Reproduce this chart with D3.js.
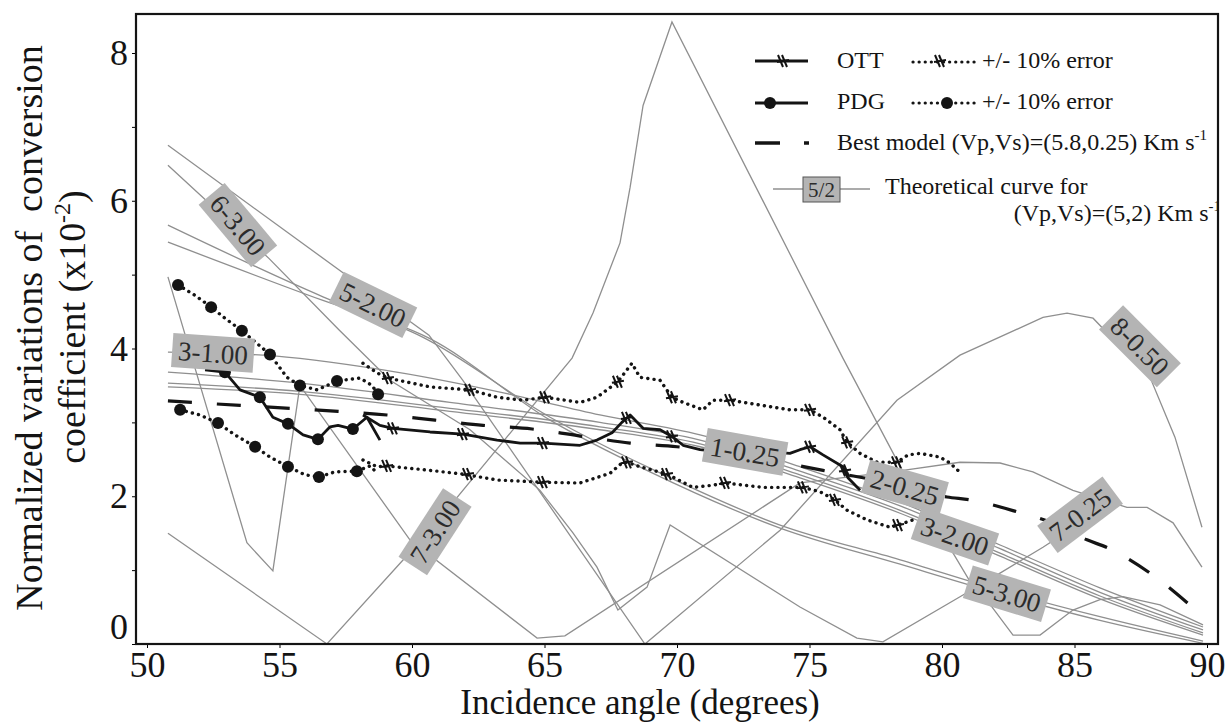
<!DOCTYPE html>
<html>
<head>
<meta charset="utf-8">
<script src="https://cdn.jsdelivr.net/npm/d3@7"></script>
<style>
  body { margin: 0; background: #fff; }
  svg { display: block; }
  svg text { font-family: "Liberation Serif", "DejaVu Serif", "Times New Roman", serif; }
</style>
</head>
<body>
<div id="chart"></div>
<script>
// incidence angle (deg), normalized variation (x1e-2)
const xTicks = [50, 55, 60, 65, 70, 75, 80, 85, 90];
const yTicks = [0, 1, 2, 3, 4, 5, 6, 7, 8];

const ott = [[58.15,3.10],[58.79,2.96],[59.28,2.92],[60.68,2.87],[61.92,2.84],[63.21,2.76],[64.08,2.72],[64.94,2.72],[66.34,2.69],[66.98,2.76],[67.55,2.86],[67.92,3.00],[68.23,3.10],[68.72,2.92],[69.36,2.90],[69.81,2.81],[70.23,2.69],[70.87,2.63],[71.62,2.60],[72.57,2.60],[73.51,2.60],[74.26,2.58],[74.64,2.63],[75.02,2.67],[75.51,2.56],[76.26,2.40],[76.45,2.25],[76.91,2.08]];
const ottMarks = [[59.28,2.92],[61.92,2.84],[64.94,2.72],[68.11,3.06],[69.81,2.81],[75.02,2.67],[76.34,2.35]];

const ottUpper = [[58.15,3.80],[58.68,3.67],[59.09,3.60],[60.68,3.48],[62.19,3.44],[63.21,3.34],[64.19,3.30],[65.02,3.34],[66.34,3.27],[66.98,3.34],[67.77,3.55],[68.30,3.80],[68.60,3.61],[69.36,3.57],[69.81,3.34],[70.23,3.27],[70.98,3.17],[71.36,3.30],[72.0,3.30],[74.26,3.17],[75.02,3.17],[75.51,3.07],[76.15,2.90],[76.42,2.73],[76.91,2.58],[77.55,2.46],[78.30,2.46],[78.72,2.56],[79.17,2.58],[79.92,2.53],[80.30,2.45],[80.60,2.35]];
const ottUpperMarks = [[59.09,3.60],[62.19,3.44],[65.02,3.34],[67.77,3.55],[69.81,3.34],[72.0,3.30],[75.02,3.17],[76.42,2.73],[78.30,2.46]];

const ottLower = [[58.15,2.49],[58.68,2.40],[59.06,2.41],[60.68,2.35],[61.92,2.30],[63.21,2.22],[64.94,2.19],[66.34,2.18],[67.47,2.31],[67.92,2.45],[68.11,2.46],[68.60,2.40],[69.62,2.30],[70.60,2.12],[71.36,2.15],[71.81,2.18],[73.25,2.12],[74.75,2.12],[75.40,2.06],[75.96,1.95],[76.42,1.81],[77.17,1.68],[78.04,1.58],[78.34,1.61],[78.91,1.68]];
const ottLowerMarks = [[59.06,2.41],[62.11,2.30],[64.94,2.19],[68.11,2.46],[69.62,2.30],[71.81,2.18],[74.75,2.12],[75.96,1.95],[78.34,1.61]];

const pdg = [[52.19,3.71],[52.94,3.68],[53.51,3.44],[54.26,3.34],[54.75,3.07],[55.32,2.98],[55.89,2.83],[56.45,2.77],[56.91,2.94],[57.21,2.96],[57.77,2.91],[58.30,3.07],[58.79,2.76]];
const pdgDots = [[52.94,3.68],[54.26,3.34],[55.32,2.98],[56.45,2.77],[57.77,2.91]];

const pdgUpper = [[51.17,4.86],[51.81,4.72],[52.42,4.56],[52.94,4.41],[53.58,4.24],[54.08,4.09],[54.64,3.92],[55.28,3.61],[55.77,3.50],[56.42,3.44],[57.17,3.56],[58.04,3.60],[58.49,3.50],[58.72,3.38]];
const pdgUpperDots = [[51.17,4.86],[52.42,4.56],[53.58,4.24],[54.64,3.92],[55.77,3.50],[57.17,3.56],[58.72,3.38]];

const pdgLower = [[51.25,3.17],[52.0,3.10],[52.68,2.99],[53.32,2.83],[54.08,2.67],[54.64,2.53],[55.32,2.40],[55.96,2.29],[56.49,2.26],[57.09,2.33],[57.92,2.34],[58.42,2.41],[58.72,2.30]];
const pdgLowerDots = [[51.25,3.17],[52.68,2.99],[54.08,2.67],[55.32,2.40],[56.49,2.26],[57.92,2.34]];

const bestModel = [[50.79,3.29],[53.51,3.23],[55.40,3.19],[57.21,3.15],[59.06,3.10],[60.87,3.03],[62.68,2.96],[64.53,2.91],[66.45,2.81],[68.23,2.72],[70.0,2.67],[71.62,2.60],[73.51,2.49],[75.51,2.35],[77.02,2.25],[78.42,2.15],[80.19,1.99],[81.06,1.95],[82.83,1.79],[84.08,1.65],[85.47,1.41],[86.26,1.30],[87.85,0.96],[89.28,0.55]];

// theoretical curves, zigzag ones (sign changes shown as |value|)
const theoryA = [[50.79,6.75],[58.64,4.70],[60.64,4.18],[61.92,3.57],[68.79,0.0],[73.89,1.54],[78.30,3.30],[80.68,3.91],[83.81,4.42],[84.72,4.48],[85.70,4.41],[87.85,3.61],[88.79,2.80],[89.81,1.58]];
const theoryB = [[50.79,6.48],[54.60,5.22],[57.25,4.25],[59.17,3.57],[62.19,2.90],[64.83,2.08],[66.08,1.50],[66.98,1.04],[67.77,0.46],[68.87,0.77],[69.74,1.61],[74.64,0.50],[76.79,0.08],[77.77,0.03],[80.68,0.64],[82.19,0.96],[83.81,1.31],[85.40,1.68]];
const theoryZ = [[50.79,4.97],[53.77,1.37],[54.75,0.99],[55.77,3.50],[59.92,1.41],[64.72,0.08],[65.77,0.11],[74.64,2.18],[78.53,2.35],[80.68,2.46],[82.19,2.45],[83.43,2.33],[84.94,2.08],[86.98,1.85],[87.74,1.85],[88.72,1.64],[89.81,1.04]];
const theorySpike = [[50.79,1.50],[56.79,0],[60.68,1.54],[66.04,3.87],[66.83,4.48],[67.85,5.43],[68.23,6.18],[68.72,7.29],[69.81,8.42],[76.26,3.87],[78.53,2.33],[80.30,1.30],[81.25,0.73],[81.89,0.50],[82.68,0.12],[83.70,0.12],[84.94,0.46],[85.96,0.60],[86.83,0.64],[88.23,0.53],[89.85,0.26]];
// smooth ones
const theoryC = [[50.79,5.67],[56.64,4.70],[60.42,4.15],[65.21,3.07],[68.98,2.38],[73.89,1.61],[78.42,1.14],[82.19,0.73],[85.96,0.37],[89.85,0.04]];
const theoryD = [[50.79,5.44],[56.64,4.65],[60.64,4.14],[65.21,3.03],[68.98,2.33],[73.89,1.57],[78.42,1.08],[82.19,0.68],[85.96,0.32],[89.85,0.01]];
const theoryE = [[50.79,3.95],[54.38,3.91],[58.91,3.71],[63.32,3.41],[67.09,3.10],[70.87,2.83],[74.64,2.40],[78.42,1.92],[82.19,1.34],[85.96,0.76],[89.85,0.23]];
const theoryF = [[50.79,3.68],[55.77,3.53],[61.43,3.27],[67.09,3.00],[70.87,2.76],[74.64,2.34],[78.42,1.87],[82.19,1.29],[85.96,0.70],[89.85,0.19]];
const theoryG = [[50.79,3.53],[55.77,3.42],[61.43,3.19],[67.09,2.94],[70.87,2.71],[74.64,2.29],[78.42,1.81],[82.19,1.23],[85.96,0.65],[89.85,0.15]];
const theoryH = [[50.79,3.48],[55.77,3.38],[61.43,3.15],[67.09,2.90],[70.87,2.67],[74.64,2.25],[78.42,1.77],[82.19,1.19],[85.96,0.61],[89.85,0.12]];

// curve tags (Vp-Vs) and where they sit
const tagText  = ["6-3.00","5-2.00","3-1.00","7-3.00","1-0.25","2-0.25","3-2.00","5-3.00","7-0.25","8-0.50"];
const tagAngle = [53.43, 58.53, 52.49, 60.87, 72.57, 78.6, 80.49, 82.45, 85.21, 87.47];
const tagValue = [5.67, 4.59, 3.94, 1.52, 2.60, 2.12, 1.46, 0.68, 1.75, 4.03];
const tagTilt  = [50, 26, 4, -57, 10, 16, 19, 17, -37, 45];

const width = 1226, height = 723;
const frameLeft = 136, frameRight = 1218, frameTop = 14, frameBottom = 644;
const serif = '"Liberation Serif", "DejaVu Serif", serif';
const ink = "#141414";
const grey = "#8f8f8f";

const x = d3.scaleLinear([50, 90], [147, 1207]);
const y = d3.scaleLinear([0, 8], [frameBottom, 53]);

const svg = d3.select("#chart").append("svg")
    .attr("width", width)
    .attr("height", height)
    .attr("viewBox", [0, 0, width, height]);

const line = d3.line().x(d => x(d[0])).y(d => y(d[1]));
const smooth = d3.line().x(d => x(d[0])).y(d => y(d[1])).curve(d3.curveMonotoneX);

// grey theoretical curves
svg.append("g")
    .selectAll("path")
    .data([theoryA, theoryB, theoryZ, theorySpike])
    .join("path")
    .attr("d", line)
    .attr("fill", "none")
    .attr("stroke", grey)
    .attr("stroke-width", 1.3);

svg.append("g")
    .selectAll("path")
    .data([theoryC, theoryD, theoryE, theoryF, theoryG, theoryH])
    .join("path")
    .attr("d", smooth)
    .attr("fill", "none")
    .attr("stroke", grey)
    .attr("stroke-width", 1.3);

// best model dashed
svg.append("path")
    .attr("d", smooth(bestModel))
    .attr("fill", "none")
    .attr("stroke", ink)
    .attr("stroke-width", 3.2)
    .attr("stroke-dasharray", "24 25");

// error bands (dotted)
svg.append("g")
    .selectAll("path")
    .data([ottUpper, ottLower, pdgUpper, pdgLower])
    .join("path")
    .attr("d", line)
    .attr("fill", "none")
    .attr("stroke", ink)
    .attr("stroke-width", 3.4)
    .attr("stroke-linecap", "round")
    .attr("stroke-dasharray", "0.1 6.2");

// solid measured curves
svg.append("g")
    .selectAll("path")
    .data([ott, pdg])
    .join("path")
    .attr("d", line)
    .attr("fill", "none")
    .attr("stroke", ink)
    .attr("stroke-width", 2.8)
    .attr("stroke-linejoin", "round");

// markers
const crossPath = "M-5,-6L0,6M-1,-6L4,6M-6,1L6,-1";
svg.append("g")
    .selectAll("path")
    .data([...ottMarks, ...ottUpperMarks, ...ottLowerMarks])
    .join("path")
    .attr("transform", d => `translate(${x(d[0])},${y(d[1])})`)
    .attr("d", crossPath)
    .attr("fill", "none")
    .attr("stroke", ink)
    .attr("stroke-width", 2);

svg.append("g")
    .selectAll("circle")
    .data([...pdgDots, ...pdgUpperDots, ...pdgLowerDots])
    .join("circle")
    .attr("cx", d => x(d[0]))
    .attr("cy", d => y(d[1]))
    .attr("r", 6)
    .attr("fill", ink);

// curve tags
const tags = svg.append("g")
    .selectAll("g")
    .data(tagText)
    .join("g")
    .attr("transform", (d, i) => `translate(${x(tagAngle[i])},${y(tagValue[i])}) rotate(${tagTilt[i]})`);

tags.append("rect").attr("fill", "#b4b4b4");
tags.append("text")
    .attr("text-anchor", "middle")
    .attr("dy", "0.35em")
    .attr("font-size", 27)
    .attr("fill", "#2b2b2b")
    .text(d => d);
tags.each(function() {
    const g = d3.select(this);
    const w = g.select("text").node().getComputedTextLength() + 12;
    g.select("rect").attr("x", -w / 2).attr("y", -17).attr("width", w).attr("height", 34);
});

// axes
const gx = svg.append("g")
    .attr("transform", `translate(0,${frameBottom})`)
    .call(d3.axisBottom(x).tickValues(xTicks).tickSize(4).tickPadding(3))
    .attr("font-family", serif)
    .attr("font-size", 36);
gx.select(".domain").remove();
gx.selectAll("text").attr("fill", ink);

const gy = svg.append("g")
    .attr("transform", `translate(${frameLeft},0)`)
    .call(d3.axisLeft(y).tickValues(yTicks).tickFormat(d => d % 2 === 0 ? d : "").tickSize(4).tickPadding(4))
    .attr("font-family", serif)
    .attr("font-size", 36);
gy.select(".domain").remove();
gy.selectAll("text").attr("fill", ink);
gy.selectAll(".tick").filter(d => d === 0).select("text").attr("dy", "-0.15em");

// axis titles
svg.append("text")
    .attr("x", 640)
    .attr("y", 714)
    .attr("text-anchor", "middle")
    .attr("font-size", 35)
    .attr("fill", ink)
    .text("Incidence angle (degrees)");

svg.append("text")
    .attr("transform", "translate(42,328) rotate(-90)")
    .attr("text-anchor", "middle")
    .attr("font-size", 38)
    .attr("fill", ink)
    .style("white-space", "pre")
    .text("Normalized variations of  conversion");

const t2 = svg.append("text")
    .attr("transform", "translate(85,327) rotate(-90)")
    .attr("text-anchor", "middle")
    .attr("font-size", 38)
    .attr("fill", ink);
t2.append("tspan").text("coefficient (x10");
t2.append("tspan").attr("font-size", 24).attr("dy", -15).text("-2");
t2.append("tspan").attr("dy", 15).text(")");

// legend
svg.append("clipPath").attr("id", "lgclip")
    .append("rect").attr("x", 0).attr("y", 0).attr("width", frameRight).attr("height", height);
const lg = svg.append("g").attr("clip-path", "url(#lgclip)").attr("font-size", 24).attr("fill", ink);

lg.append("line").attr("x1", 755).attr("x2", 808).attr("y1", 61).attr("y2", 61)
    .attr("stroke", ink).attr("stroke-width", 3);
lg.append("path").attr("d", crossPath).attr("transform", "translate(783,61)")
    .attr("fill", "none").attr("stroke", ink).attr("stroke-width", 2);
lg.append("text").attr("x", 837).attr("y", 68).text("OTT");
lg.append("line").attr("x1", 913).attr("x2", 978).attr("y1", 62).attr("y2", 62)
    .attr("stroke", ink).attr("stroke-width", 3.2).attr("stroke-linecap", "round").attr("stroke-dasharray", "0.1 6");
lg.append("path").attr("d", crossPath).attr("transform", "translate(940,61)")
    .attr("fill", "none").attr("stroke", ink).attr("stroke-width", 2);
lg.append("text").attr("x", 982).attr("y", 68).text("+/- 10% error");

lg.append("line").attr("x1", 755).attr("x2", 808).attr("y1", 103).attr("y2", 103)
    .attr("stroke", ink).attr("stroke-width", 3);
lg.append("circle").attr("cx", 770).attr("cy", 103).attr("r", 6).attr("fill", ink);
lg.append("text").attr("x", 837).attr("y", 109).text("PDG");
lg.append("line").attr("x1", 913).attr("x2", 978).attr("y1", 103).attr("y2", 103)
    .attr("stroke", ink).attr("stroke-width", 3.2).attr("stroke-linecap", "round").attr("stroke-dasharray", "0.1 6");
lg.append("circle").attr("cx", 947).attr("cy", 103).attr("r", 6).attr("fill", ink);
lg.append("text").attr("x", 982).attr("y", 109).text("+/- 10% error");

lg.append("line").attr("x1", 755).attr("x2", 780).attr("y1", 143).attr("y2", 143)
    .attr("stroke", ink).attr("stroke-width", 3.5);
lg.append("line").attr("x1", 804).attr("x2", 809).attr("y1", 143).attr("y2", 143)
    .attr("stroke", ink).attr("stroke-width", 3.5);
const bm = lg.append("text").attr("x", 837).attr("y", 150);
bm.append("tspan").text("Best model (Vp,Vs)=(5.8,0.25) Km s");
bm.append("tspan").attr("font-size", 15).attr("dy", -10).text("-1");

lg.append("line").attr("x1", 773).attr("x2", 870).attr("y1", 189).attr("y2", 189)
    .attr("stroke", grey).attr("stroke-width", 1.3);
lg.append("rect").attr("x", 803).attr("y", 177).attr("width", 37).attr("height", 25)
    .attr("fill", "#b4b4b4").attr("stroke", "#555").attr("stroke-width", 1);
lg.append("text").attr("x", 821.5).attr("y", 197).attr("text-anchor", "middle")
    .attr("font-size", 21).attr("fill", "#2b2b2b").text("5/2");
lg.append("text").attr("x", 885).attr("y", 194).text("Theoretical curve for");
const th = lg.append("text").attr("x", 1221).attr("y", 221).attr("text-anchor", "end");
th.append("tspan").text("(Vp,Vs)=(5,2) Km s");
th.append("tspan").attr("font-size", 15).attr("dy", -10).text("-1");

// frame
svg.append("rect")
    .attr("x", frameLeft).attr("y", frameTop)
    .attr("width", frameRight - frameLeft).attr("height", frameBottom - frameTop)
    .attr("fill", "none")
    .attr("stroke", ink)
    .attr("stroke-width", 2.2);
</script>
</body>
</html>
